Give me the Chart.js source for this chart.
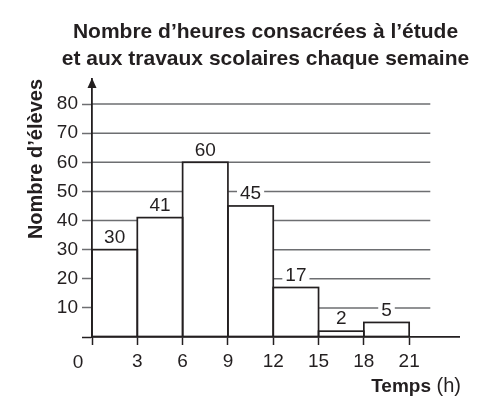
<!DOCTYPE html>
<html lang="fr">
<head>
<meta charset="utf-8">
<script src="https://cdn.jsdelivr.net/npm/chart.js@4.4.1/dist/chart.umd.min.js"></script>
<style>
  html, body { margin: 0; padding: 0; background: #fff; }
  #cadre { width: 497px; height: 414px; }
</style>
</head>
<body>
<div id="cadre"><canvas id="histogramme" width="497" height="414"></canvas></div>
<script>
// données
const titre = ["Nombre d’heures consacrées à l’étude", "et aux travaux scolaires chaque semaine"];
const debutsClasses = [0, 3, 6, 9, 12, 15, 18];
const largeurClasse = 3;
const effectifs = [30, 41, 60, 45, 17, 2, 5];
const graduationsX = [0, 3, 6, 9, 12, 15, 18, 21];
const graduationsY = [0, 10, 20, 30, 40, 50, 60, 70, 80];
const titreY = "Nombre d’élèves";
const titreX = "Temps";
const uniteX = "(h)";

const encre = '#231f20';
const gris = '#6d6e71';
const police = '"Liberation Sans", Arial, Helvetica, sans-serif';

// bornes des axes (l'axe des x dépasse la dernière classe, la flèche dépasse 80)
const xMax = 24.3;
const finGrille = 22.4;
const yMax = 88.6;

const points = debutsClasses.map((d, i) => ({ x: d + largeurClasse / 2, y: effectifs[i] }));

const habillage = {
  id: 'habillage',
  beforeDatasetsDraw(chart) {
    const { ctx, chartArea, scales: { x, y } } = chart;
    const xFin = x.getPixelForValue(finGrille);
    ctx.save();
    ctx.strokeStyle = gris;
    ctx.lineWidth = 1.5;
    graduationsY.filter(v => v > 0).forEach(v => {
      const py = y.getPixelForValue(v);
      ctx.beginPath();
      ctx.moveTo(chartArea.left, py);
      ctx.lineTo(xFin, py);
      ctx.stroke();
    });
    ctx.restore();
  },
  afterDatasetsDraw(chart) {
    const { ctx } = chart;
    const barres = chart.getDatasetMeta(0).data;
    ctx.save();
    // contours des rectangles (un seul trait entre deux classes voisines)
    ctx.strokeStyle = encre;
    ctx.lineWidth = 1.7;
    barres.forEach(b => {
      const g = b.getProps(['x', 'y', 'width', 'base'], true);
      ctx.strokeRect(g.x - g.width / 2, g.y, g.width, g.base - g.y);
    });
    // effectifs au-dessus des rectangles, sur fond blanc
    ctx.font = '19px ' + police;
    ctx.textAlign = 'center';
    ctx.textBaseline = 'middle';
    barres.forEach((b, i) => {
      const txt = String(effectifs[i]);
      const w = ctx.measureText(txt).width;
      const cy = b.y - 12;
      ctx.fillStyle = '#fff';
      ctx.fillRect(b.x - w / 2 - 3, cy - 7, w + 6, 14);
      ctx.fillStyle = encre;
      ctx.fillText(txt, b.x, cy);
    });
    ctx.restore();
  },
  afterDraw(chart) {
    const { ctx, chartArea, scales: { x } } = chart;
    ctx.save();
    // flèche de l'axe vertical
    ctx.fillStyle = encre;
    ctx.beginPath();
    ctx.moveTo(chartArea.left, chartArea.top - 1);
    ctx.lineTo(chartArea.left - 4.5, chartArea.top + 9);
    ctx.lineTo(chartArea.left + 4.5, chartArea.top + 9);
    ctx.closePath();
    ctx.fill();

    // titre sur deux lignes
    ctx.textAlign = 'center';
    ctx.textBaseline = 'middle';
    ctx.font = 'bold 21px ' + police;
    titre.forEach((ligne, i) => ctx.fillText(ligne, chart.width / 2 + 17, 32 + i * 27));

    // origine
    ctx.font = '19px ' + police;
    ctx.fillText('0', x.getPixelForValue(0) - 14, chartArea.bottom + 26);

    // titre de l'axe horizontal
    ctx.textAlign = 'right';
    ctx.textBaseline = 'alphabetic';
    ctx.font = '20px ' + police;
    const wUnite = ctx.measureText(' ' + uniteX).width;
    const xDroite = chartArea.right + 2;
    ctx.fillText(' ' + uniteX, xDroite, chartArea.bottom + 55);
    ctx.font = 'bold 19px ' + police;
    ctx.fillText(titreX, xDroite - wUnite, chartArea.bottom + 55);
    ctx.restore();
  }
};

new Chart(document.getElementById('histogramme'), {
  type: 'bar',
  data: {
    datasets: [{
      data: points,
      backgroundColor: '#fff',
      borderWidth: 0,
      barPercentage: 1,
      categoryPercentage: 1
    }]
  },
  options: {
    responsive: false,
    animation: false,
    devicePixelRatio: 1,
    layout: { padding: { top: 79, left: 24, right: 38, bottom: 0 } },
    plugins: {
      legend: { display: false },
      title: { display: false },
      tooltip: { enabled: false }
    },
    scales: {
      x: {
        type: 'linear',
        min: 0,
        max: xMax,
        offset: false,
        afterBuildTicks: axe => { axe.ticks = graduationsX.map(v => ({ value: v })); },
        afterFit: axe => { axe.height = 77; },
        ticks: {
          callback: v => (v === 0 ? '' : v),
          color: encre,
          font: { family: police, size: 19 },
          padding: 5,
          maxRotation: 0,
          autoSkip: false
        },
        grid: {
          offset: false,
          drawOnChartArea: false,
          drawTicks: true,
          tickLength: 8,
          tickColor: encre,
          tickWidth: 1.5
        },
        border: { display: true, color: encre, width: 1.8, z: 1 }
      },
      y: {
        min: 0,
        max: yMax,
        afterBuildTicks: axe => { axe.ticks = graduationsY.map(v => ({ value: v })); },
        afterFit: axe => { axe.width = 68; },
        ticks: {
          callback: v => (v === 0 ? '' : v),
          color: encre,
          font: { family: police, size: 19 },
          padding: 4,
          autoSkip: false
        },
        grid: {
          drawOnChartArea: false,
          drawTicks: true,
          tickLength: 10,
          tickColor: c => (c.tick && c.tick.value === 0 ? encre : gris),
          tickWidth: 1.5
        },
        border: { display: true, color: encre, width: 1.8, z: 1 },
        title: {
          display: true,
          text: titreY,
          align: 'end',
          color: encre,
          font: { family: police, size: 20, weight: 'bold' },
          padding: { top: 0, bottom: 0 }
        }
      }
    }
  },
  plugins: [habillage]
});
</script>
</body>
</html>
